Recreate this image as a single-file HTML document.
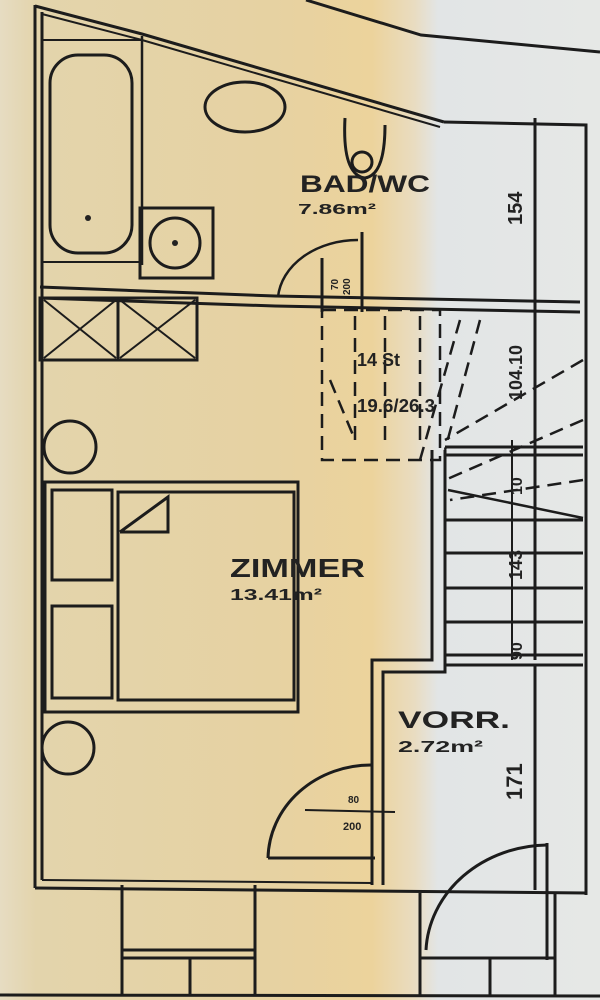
<!DOCTYPE html>
<html><head><meta charset="utf-8"><style>
html,body{margin:0;padding:0;width:600px;height:1000px;overflow:hidden}
svg{display:block}
text{font-family:"Liberation Sans",sans-serif;font-weight:bold;fill:#222}
</style></head><body>
<svg width="600" height="1000" viewBox="0 0 600 1000" xmlns="http://www.w3.org/2000/svg">
<defs>
<linearGradient id="bg" x1="0" x2="1" y1="0" y2="0">
<stop offset="0" stop-color="#e6dcc2"/>
<stop offset="0.06" stop-color="#e3d4ac"/>
<stop offset="0.45" stop-color="#e6d2a2"/>
<stop offset="0.62" stop-color="#ecd39c"/>
<stop offset="0.69" stop-color="#e9dcc0"/>
<stop offset="0.73" stop-color="#e2e5e6"/>
<stop offset="1" stop-color="#e6e8e6"/>
</linearGradient>
</defs>
<rect width="600" height="1000" fill="url(#bg)"/>
<g fill="none" stroke="#1c1c1c" stroke-width="3">
<polyline points="306,0 421,35 600,52"/>
<line x1="35" y1="5" x2="35" y2="888"/>
<line x1="42" y1="12" x2="42" y2="880"/>
<polyline points="35,6 142,34 444,122"/>
<polyline points="42,14 142,40 440,127" stroke-width="2"/>
<line x1="142" y1="36" x2="142" y2="265" stroke-width="2.5"/>
<rect x="50" y="55" width="82" height="198" rx="28" stroke-width="3"/>
<line x1="42" y1="40" x2="142" y2="40" stroke-width="2"/>
<line x1="42" y1="262" x2="142" y2="262" stroke-width="2"/>
<ellipse cx="245" cy="107" rx="40" ry="25"/>
<path d="M345,118 Q342,175 365,178 Q385,175 385,125"/>
<circle cx="362" cy="162" r="10"/>
<rect x="140" y="208" width="73" height="70"/>
<circle cx="175" cy="243" r="25"/>
<polyline points="40,287 275,296 580,302"/>
<polyline points="40,298 275,306 580,312"/>
<line x1="322" y1="258" x2="322" y2="312"/>
<line x1="362" y1="232" x2="362" y2="312"/>
<path d="M278,297 A80,62 0 0 1 358,240" stroke-width="2.5"/>
<polyline points="444,122 586,125 586,895"/>
<line x1="535" y1="118" x2="535" y2="660"/>
<rect x="40" y="298" width="157" height="62"/>
<line x1="118" y1="298" x2="118" y2="360"/>
<line x1="44" y1="300" x2="116" y2="358" stroke-width="2"/><line x1="116" y1="300" x2="44" y2="358" stroke-width="2"/>
<line x1="120" y1="300" x2="195" y2="358" stroke-width="2"/><line x1="195" y1="300" x2="120" y2="358" stroke-width="2"/>
<circle cx="70" cy="447" r="26"/>
<circle cx="68" cy="748" r="26"/>
<rect x="45" y="482" width="253" height="230"/>
<rect x="52" y="490" width="60" height="90"/>
<rect x="52" y="606" width="60" height="92"/>
<rect x="118" y="492" width="176" height="208"/>
<polyline points="120,532 168,497 168,532 120,532"/>
<g stroke-dasharray="14,8" stroke-width="2.5">
<rect x="322" y="310" width="118" height="150"/>
<line x1="355" y1="316" x2="355" y2="448"/>
<line x1="385" y1="316" x2="385" y2="448"/>
<line x1="420" y1="316" x2="420" y2="448"/>
<line x1="460" y1="320" x2="420" y2="460"/>
<line x1="480" y1="320" x2="445" y2="450"/>
<line x1="583" y1="360" x2="445" y2="440"/>
<line x1="583" y1="420" x2="445" y2="480"/>
<line x1="583" y1="480" x2="450" y2="500"/>
<line x1="330" y1="380" x2="355" y2="440"/>
</g>
<line x1="445" y1="447" x2="583" y2="447"/>
<line x1="445" y1="455" x2="583" y2="455"/>
<line x1="448" y1="490" x2="583" y2="518" stroke-width="2.5"/>
<line x1="445" y1="520" x2="583" y2="520"/>
<line x1="445" y1="553" x2="583" y2="553"/>
<line x1="445" y1="588" x2="583" y2="588"/>
<line x1="445" y1="622" x2="583" y2="622"/>
<line x1="445" y1="655" x2="583" y2="655"/>
<line x1="445" y1="665" x2="583" y2="665"/>
<line x1="512" y1="440" x2="512" y2="660" stroke-width="2"/>
<polyline points="432,450 432,660 372,660 372,885"/>
<polyline points="445,450 445,672 383,672 383,885"/>
<line x1="535" y1="665" x2="535" y2="890"/>
<line x1="268" y1="858" x2="375" y2="858"/>
<path d="M268,858 A103,95 0 0 1 372,765"/>
<line x1="305" y1="810" x2="395" y2="812" stroke-width="2"/>
<path d="M426,950 A123,110 0 0 1 547,845"/>
<line x1="547" y1="843" x2="547" y2="960"/>
<line x1="35" y1="888" x2="586" y2="893"/>
<line x1="42" y1="880" x2="372" y2="883" stroke-width="2"/>
<line x1="122" y1="885" x2="122" y2="995"/>
<line x1="255" y1="885" x2="255" y2="995"/>
<line x1="122" y1="950" x2="255" y2="950"/>
<line x1="122" y1="958" x2="255" y2="958"/>
<line x1="190" y1="958" x2="190" y2="995"/>
<line x1="420" y1="893" x2="420" y2="995"/>
<line x1="555" y1="893" x2="555" y2="995"/>
<line x1="420" y1="958" x2="555" y2="958"/>
<line x1="490" y1="958" x2="490" y2="995"/>
<line x1="0" y1="995" x2="600" y2="996"/>
</g>
<circle cx="88" cy="218" r="3" fill="#222"/>
<circle cx="175" cy="243" r="3" fill="#222"/>
<text x="300" y="192" font-size="24" textLength="130" lengthAdjust="spacingAndGlyphs">BAD/WC</text>
<text x="298" y="214" font-size="15" textLength="78" lengthAdjust="spacingAndGlyphs">7.86m²</text>
<text x="230" y="577" font-size="26" textLength="135" lengthAdjust="spacingAndGlyphs">ZIMMER</text>
<text x="230" y="600" font-size="16" textLength="92" lengthAdjust="spacingAndGlyphs">13.41m²</text>
<text x="398" y="728" font-size="24" textLength="112" lengthAdjust="spacingAndGlyphs">VORR.</text>
<text x="398" y="752" font-size="16" textLength="85" lengthAdjust="spacingAndGlyphs">2.72m²</text>
<text x="357" y="366" font-size="18">14 St</text>
<text x="357" y="412" font-size="18" textLength="78" lengthAdjust="spacingAndGlyphs">19.6/26.3</text>
<text transform="translate(522,225) rotate(-90)" font-size="20">154</text>
<text transform="translate(522,400) rotate(-90)" font-size="18">104.10</text>
<text transform="translate(522,495) rotate(-90)" font-size="16">10</text>
<text transform="translate(522,580) rotate(-90)" font-size="18">143</text>
<text transform="translate(522,660) rotate(-90)" font-size="16">90</text>
<text transform="translate(522,800) rotate(-90)" font-size="22">171</text>
<text transform="translate(338,290) rotate(-90)" font-size="10">70</text>
<text transform="translate(350,295) rotate(-90)" font-size="10">200</text>
<text x="348" y="803" font-size="10">80</text>
<text x="343" y="830" font-size="11">200</text>
</svg>
</body></html>
